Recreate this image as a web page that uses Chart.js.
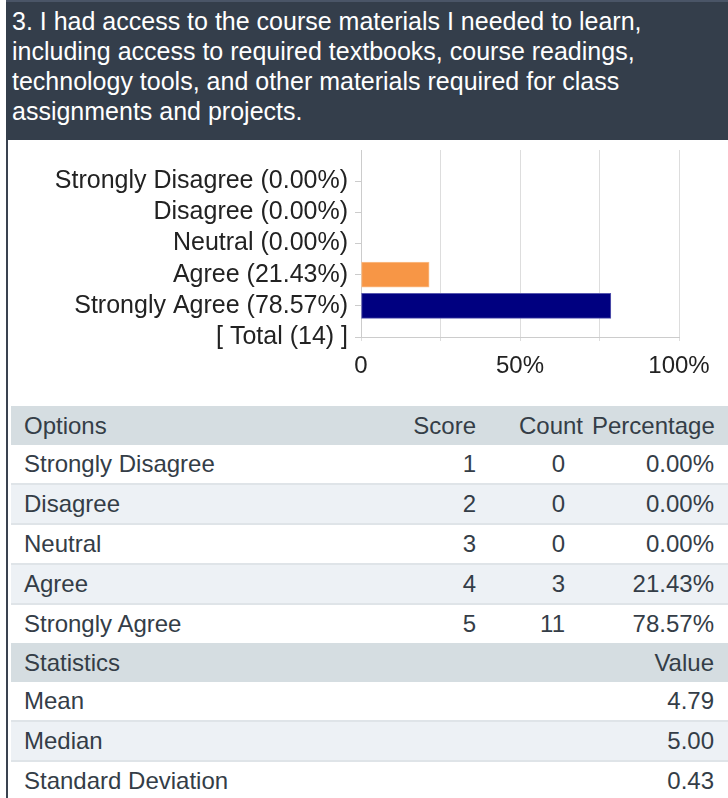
<!DOCTYPE html>
<html>
<head>
<meta charset="utf-8">
<script src="https://cdn.jsdelivr.net/npm/chart.js@4.4.1/dist/chart.umd.min.js"></script>
<style>
  html, body { margin: 0; padding: 0; background: #fff; }
  body { width: 728px; height: 798px; overflow: hidden; font-family: "Liberation Sans", Arial, sans-serif; }
  #wrap { position: absolute; left: 6px; top: 0; width: 722px; height: 798px; }
  #wrap::before { content: ""; position: absolute; left: 0; top: 0; bottom: 0; width: 2px; background: #3a4350; }
  #question {
    position: relative; background: #343e4b; color: #fff; font-size: 25px; line-height: 30px;
    padding: 4px 0 14px 6px; border-top: 2px solid #4a5567; height: 120px;
  }
  #chartBox { position: relative; height: 266px; margin-left: 2px; }
  table { position: relative; margin-left: 5px; width: 717px; border-collapse: collapse; table-layout: fixed;
    font-size: 24px; color: #343d47; }
  td { padding: 0; white-space: nowrap; }
  td.opt { padding-left: 13px; }
  td.num { text-align: right; }
  tr.head td { background: #d5dde1; height: 39px; }
  tr.stat td { background: #d5dde1; height: 39px; }
  tr.row td { height: 38px; border-bottom: 2px solid #dfe4e8; }
  tr.row.alt td { background: #edf1f5; }
  tr.last td { border-bottom: none; }
</style>
</head>
<body>
<div id="wrap">
  <div id="question">3. I had access to the course materials I needed to learn,<br>including access to required textbooks, course readings,<br>technology tools, and other materials required for class<br>assignments and projects.</div>
  <div id="chartBox"><canvas id="chart"></canvas></div>
  <table id="results">
    <colgroup><col style="width:384px"><col style="width:90px"><col style="width:107px"><col style="width:136px"></colgroup>
    <tbody id="resultsBody"></tbody>
  </table>
</div>
<script>
// data
const optionNames = ['Strongly Disagree', 'Disagree', 'Neutral', 'Agree', 'Strongly Agree'];
const scores = [1, 2, 3, 4, 5];
const counts = [0, 0, 0, 3, 11];
const percents = [0.00, 0.00, 0.00, 21.43, 78.57];
const totalCount = 14;
const xTickLabels = ['0', '', '50%', '', '100%'];
const statNames = ['Mean', 'Median', 'Standard Deviation'];
const statValues = ['4.79', '5.00', '0.43'];

const barColors = ['#c0504d', '#d99694', '#a6a6a6', '#f79646', '#000080'];
const barBorders = ['#d88a88', '#e8bcbb', '#cccccc', '#fbbf8c', '#5858b0'];

// chart labels: a blank slot on top, the options, then the total line
const yLabels = [''].concat(
    optionNames.map((n, i) => n + ' (' + percents[i].toFixed(2) + '%)'),
    ['[ Total (' + totalCount + ') ]']
);
const barData = [null].concat(percents, [null]);

Chart.defaults.font.family = '"Liberation Sans", Arial, sans-serif';

new Chart(document.getElementById('chart'), {
    type: 'bar',
    data: {
        labels: yLabels,
        datasets: [{
            data: barData,
            backgroundColor: [null].concat(barColors, [null]),
            borderColor: [null].concat(barBorders, [null]),
            borderWidth: 1,
            borderSkipped: false,
            barThickness: 25
        }]
    },
    options: {
        indexAxis: 'y',
        responsive: true,
        maintainAspectRatio: false,
        animation: false,
        layout: { padding: { top: 10, right: 49, left: 0, bottom: 0 } },
        scales: {
            y: {
                offset: false,
                grid: {
                    offset: false,
                    drawOnChartArea: false,
                    tickLength: 6,
                    color: ctx => ctx.index === 0 ? 'rgba(0,0,0,0)' : '#cccccc'
                },
                border: { color: '#cccccc' },
                ticks: { color: '#222', font: { size: 25 }, padding: 7, autoSkip: false },
                afterFit: scale => {
                    scale.width = 353;
                    scale.paddingTop = 0;
                    scale.paddingBottom = 0;
                }
            },
            x: {
                min: 0,
                max: 100,
                grid: { color: '#dddddd', tickLength: 4 },
                border: { color: '#cccccc' },
                ticks: {
                    stepSize: 25,
                    color: '#222',
                    font: { size: 24 },
                    padding: 11,
                    maxRotation: 0,
                    callback: (v, i) => xTickLabels[i]
                },
                afterFit: scale => { scale.height = 69; }
            }
        },
        plugins: {
            legend: { display: false },
            tooltip: { enabled: false }
        }
    }
});

// results table
const tbody = document.getElementById('resultsBody');
let html = '<tr class="head"><td class="opt">Options</td><td class="num" style="padding-right:9px">Score</td>' +
    '<td class="num" style="padding-right:9px">Count</td><td class="num" style="padding-right:14px">Percentage</td></tr>';
optionNames.forEach((name, i) => {
    html += '<tr class="row' + (i % 2 ? ' alt' : '') + (i === optionNames.length - 1 ? ' last' : '') + '">' +
        '<td class="opt">' + name + '</td>' +
        '<td class="num" style="padding-right:9px">' + scores[i] + '</td>' +
        '<td class="num" style="padding-right:27px">' + counts[i] + '</td>' +
        '<td class="num" style="padding-right:14px">' + percents[i].toFixed(2) + '%</td></tr>';
});
html += '<tr class="stat"><td class="opt" colspan="3">Statistics</td><td class="num" style="padding-right:14px">Value</td></tr>';
statNames.forEach((name, i) => {
    html += '<tr class="row' + (i % 2 ? ' alt' : '') + (i === statNames.length - 1 ? ' last' : '') + '">' +
        '<td class="opt" colspan="3">' + name + '</td>' +
        '<td class="num" style="padding-right:14px">' + statValues[i] + '</td></tr>';
});
tbody.innerHTML = html;
</script>
</body>
</html>
